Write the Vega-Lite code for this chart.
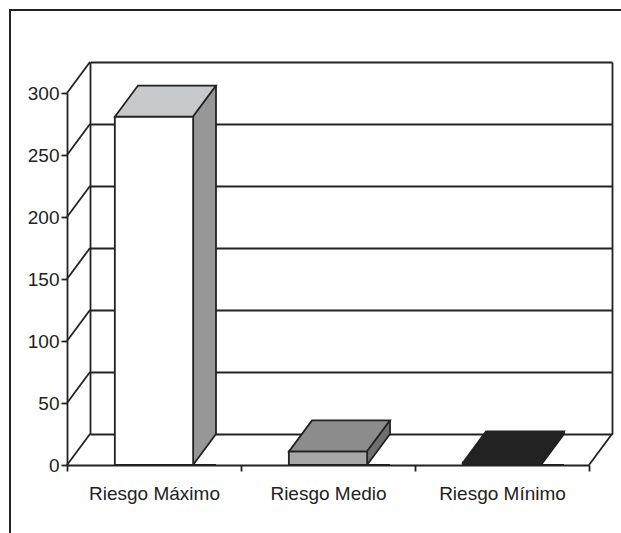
{
  "$schema": "https://vega.github.io/schema/vega-lite/v6.json",
  "autosize": "none",
  "padding": {"left": 10, "top": 10, "right": -3, "bottom": -3},
  "width": 614,
  "height": 526,
  "background": "white",
  "config": {
    "view": {"stroke": "#222", "strokeWidth": 2},
    "axis": {
      "domainColor": "#222", "domainWidth": 1.8,
      "tickColor": "#222", "tickWidth": 1.8,
      "gridColor": "#222", "gridWidth": 1.8, "gridOpacity": 1,
      "labelFont": "Liberation Sans", "labelFontSize": 19, "labelColor": "#222"
    }
  },
  "datasets": {
    "bars": [
      {"categoria": "Riesgo Máximo", "valor": 281},
      {"categoria": "Riesgo Medio", "valor": 11},
      {"categoria": "Riesgo Mínimo", "valor": 2}
    ],
    "ticks": [
      {"tick": 0}, {"tick": 50}, {"tick": 100}, {"tick": 150},
      {"tick": 200}, {"tick": 250}, {"tick": 300}
    ]
  },
  "data": {"name": "bars"},
  "resolve": {"axis": {"y": "independent"}},
  "layer": [
    {
      "mark": {"type": "bar", "width": 23, "xOffset": 27.5, "y2Offset": 31, "stroke": null},
      "encoding": {
        "x": {"field": "categoria", "type": "nominal",
              "scale": {"domain": ["Riesgo Máximo", "Riesgo Medio", "Riesgo Mínimo"], "range": [80, 602], "paddingInner": 0, "paddingOuter": 0},
              "axis": {"orient": "bottom", "title": null, "tickBand": "extent", "position": -23, "offset": -71, "tickSize": 6,
                       "labelPadding": 13, "labelAngle": 0, "domain": true, "ticks": true, "grid": false, "labelOverlap": false}},
        "y": {"field": "valor", "type": "quantitative", "stack": null,
              "scale": {"domain": [0, 300], "range": [424, 52], "nice": false},
              "axis": {"orient": "right", "title": null, "offset": -12, "domain": true, "labels": false, "ticks": false, "grid": false}},
        "y2": {"datum": 0},
        "fill": {"condition": [
          {"test": "datum.categoria == 'Riesgo Máximo'", "value": "#979797"},
          {"test": "datum.categoria == 'Riesgo Medio'", "value": "#6f6f6f"}
        ], "value": "#222"}
      }
    },
    {
      "data": {"name": "ticks"},
      "mark": {"type": "point", "shape": "M 0 0 L -23 31", "size": 4, "filled": false, "stroke": "#222", "strokeWidth": 1.8, "opacity": 1},
      "encoding": {
        "x": {"datum": "Riesgo Máximo", "type": "nominal", "bandPosition": 0},
        "y": {"field": "tick", "type": "quantitative",
              "axis": {"orient": "left", "title": null, "grid": true, "labels": false, "ticks": false, "domain": true, "offset": -80,
                       "values": [0, 50, 100, 150, 200, 250, 300]}}
      }
    },
    {
      "data": {"name": "ticks"},
      "transform": [{"filter": "datum.tick == 0"}],
      "mark": {"type": "point", "shape": "M 0 0 L -23 31", "size": 4, "filled": false, "stroke": "#222", "strokeWidth": 1.8, "opacity": 1},
      "encoding": {
        "x": {"datum": "Riesgo Mínimo", "type": "nominal", "bandPosition": 1},
        "y": {"field": "tick", "type": "quantitative", "axis": null}
      }
    },
    {
      "mark": {"type": "point", "shape": "M 39 31 L 16 31 L 39 0", "size": 4, "filled": true, "fill": "white", "stroke": "#222", "strokeWidth": 1.8, "opacity": 1},
      "encoding": {
        "x": {"field": "categoria", "type": "nominal"},
        "y": {"datum": 0, "type": "quantitative", "axis": null}
      }
    },
    {
      "mark": {"type": "rule", "xOffset": 39, "stroke": "#222", "strokeWidth": 1.8},
      "encoding": {
        "x": {"field": "categoria", "type": "nominal"},
        "y": {"field": "valor", "type": "quantitative", "axis": null},
        "y2": {"datum": 0}
      }
    },
    {
      "mark": {"type": "bar", "width": {"band": 0.45}, "xOffset": -23, "yOffset": 31, "y2Offset": 31, "stroke": "#222", "strokeWidth": 1.8},
      "encoding": {
        "x": {"field": "categoria", "type": "nominal"},
        "y": {"field": "valor", "type": "quantitative", "stack": null,
              "axis": {"orient": "left", "title": null, "offset": -57, "position": 31, "values": [0, 50, 100, 150, 200, 250, 300],
                       "tickSize": 6, "labelPadding": 2, "grid": false, "domain": true, "ticks": true}},
        "y2": {"datum": 0},
        "fill": {"condition": [
          {"test": "datum.categoria == 'Riesgo Máximo'", "value": "#ffffff"},
          {"test": "datum.categoria == 'Riesgo Medio'", "value": "#a6a6a6"}
        ], "value": "#222"}
      }
    },
    {
      "mark": {"type": "point", "shape": "M -39 0 L 39 0 L 16 31 L -62 31 Z", "size": 4, "filled": true, "stroke": "#222", "strokeWidth": 1.8, "opacity": 1},
      "encoding": {
        "x": {"field": "categoria", "type": "nominal"},
        "y": {"field": "valor", "type": "quantitative", "axis": null},
        "fill": {"condition": [
          {"test": "datum.categoria == 'Riesgo Máximo'", "value": "#c8c9cb"},
          {"test": "datum.categoria == 'Riesgo Medio'", "value": "#8c8c8c"}
        ], "value": "#222"}
      }
    }
  ]
}
